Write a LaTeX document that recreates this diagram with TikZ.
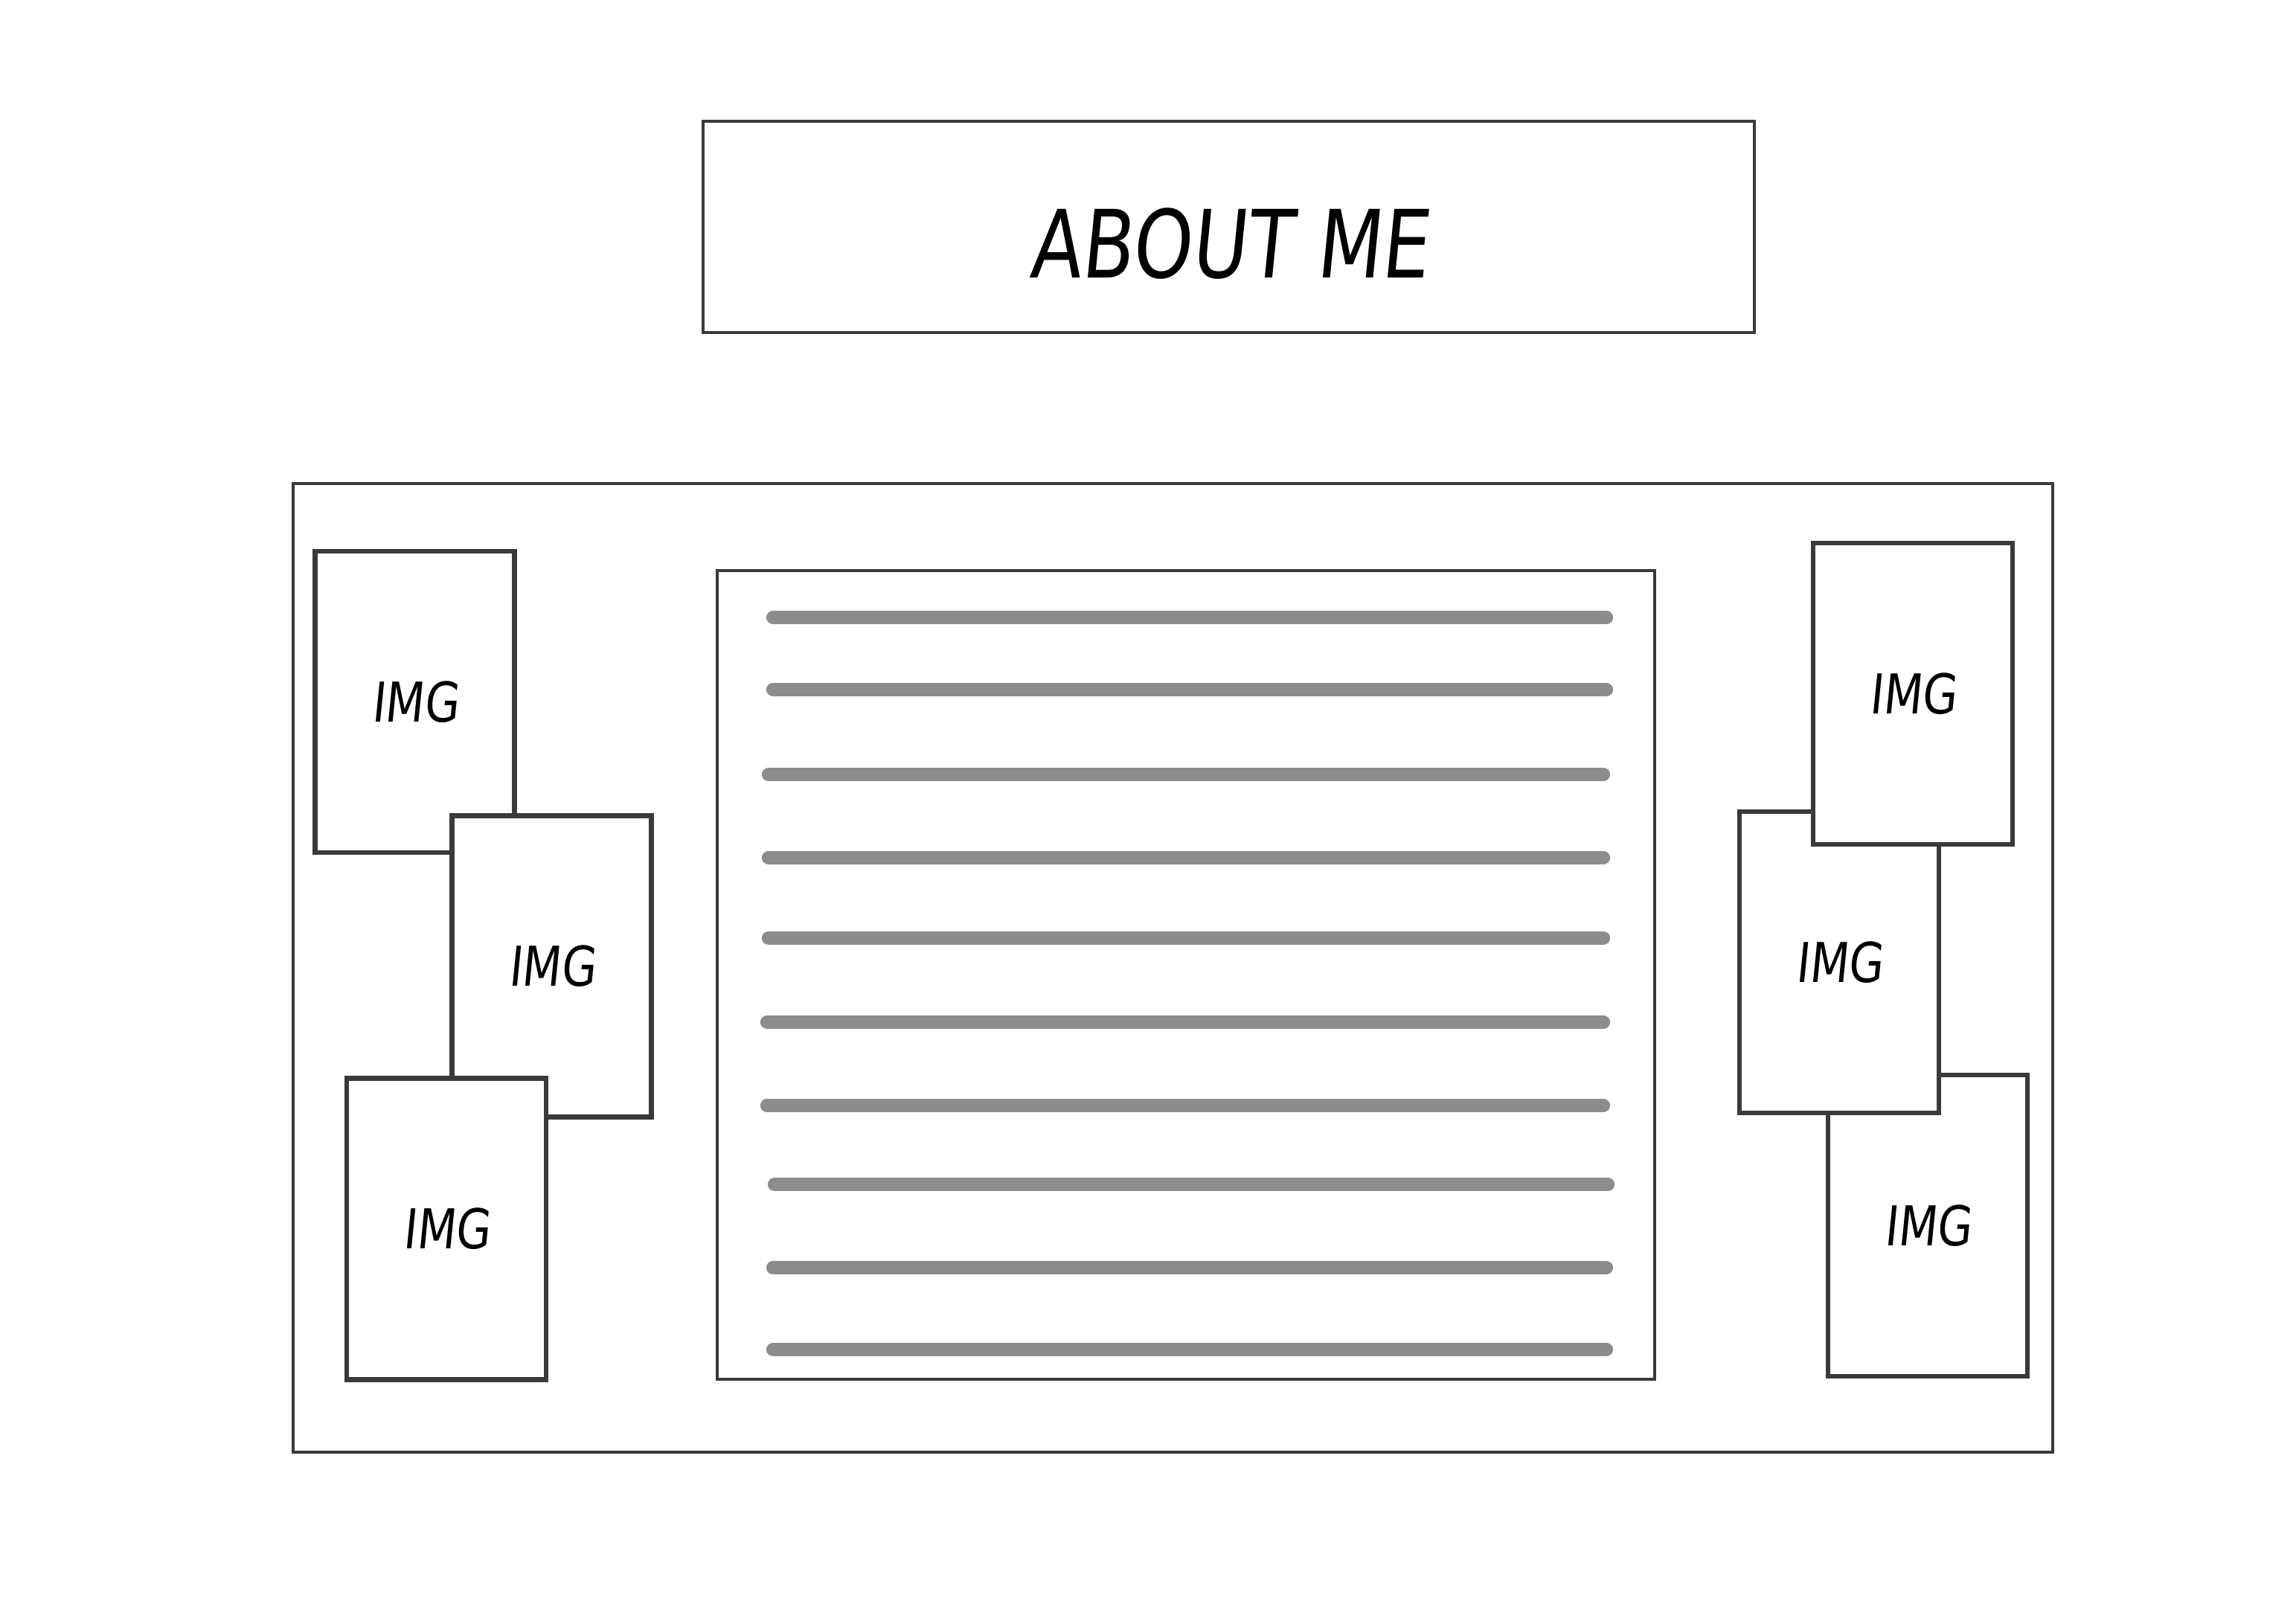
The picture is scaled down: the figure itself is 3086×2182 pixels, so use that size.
\documentclass[tikz,border=0pt]{standalone}
\usepackage{fontspec}
\newfontfamily\titlefont[FakeSlant=0.1,FakeStretch=0.8]{DejaVu Sans}
\newfontfamily\imgfont[FakeSlant=0.1,FakeStretch=0.82]{DejaVu Sans}
\definecolor{edge}{HTML}{3A3A3A}
\definecolor{bar}{HTML}{8C8C8C}
\tikzset{
  box/.style={draw=edge, rectangle, inner sep=0},
  imgbox/.style={box, fill=white, line width=1.9pt, minimum width=26.8mm, minimum height=40.5mm, font=\imgfont\fontsize{21}{21}\selectfont},
  textline/.style={draw=bar, line width=5.2pt, line cap=round}
}
\begin{document}
\begin{tikzpicture}[x=0.1mm, y=-0.1mm]
		\useasboundingbox (0,0) rectangle (3086,2182);
		
		\node (T) at (1651.5,305) [box, line width=1pt, minimum width=141.3mm, minimum height=28.4mm, text height=13.8mm, font=\titlefont\fontsize{36}{36}\selectfont]  {ABOUT ME};
		\node (M) at (1576.5,1301) [box, line width=1pt, minimum width=236.5mm, minimum height=130.2mm]  {};
		\node (C) at (1594,1310.5) [box, line width=1.2pt, minimum width=126mm, minimum height=108.7mm]  {};
		
		\coordinate (C1a) at (1039,830);  \coordinate (C1b) at (2159,830);
		\coordinate (C2a) at (1039,927);  \coordinate (C2b) at (2159,927);
		\coordinate (C3a) at (1033,1041); \coordinate (C3b) at (2155,1041);
		\coordinate (C4a) at (1033,1153); \coordinate (C4b) at (2155,1153);
		\coordinate (C5a) at (1033,1261); \coordinate (C5b) at (2155,1261);
		\coordinate (C6a) at (1031,1374); \coordinate (C6b) at (2155,1374);
		\coordinate (C7a) at (1031,1486); \coordinate (C7b) at (2155,1486);
		\coordinate (C8a) at (1041,1592); \coordinate (C8b) at (2161,1592);
		\coordinate (C9a) at (1039,1704); \coordinate (C9b) at (2159,1704);
		\coordinate (C10a) at (1039,1814); \coordinate (C10b) at (2159,1814);
		\draw[textline] (C1a) to (C1b);
		\draw[textline] (C2a) to (C2b);
		\draw[textline] (C3a) to (C3b);
		\draw[textline] (C4a) to (C4b);
		\draw[textline] (C5a) to (C5b);
		\draw[textline] (C6a) to (C6b);
		\draw[textline] (C7a) to (C7b);
		\draw[textline] (C8a) to (C8b);
		\draw[textline] (C9a) to (C9b);
		\draw[textline] (C10a) to (C10b);
		
		\node (L1) at (557.5,943.5) [imgbox]  {IMG};
		\node (L2) at (741.5,1299) [imgbox]  {IMG};
		\node (L3) at (600,1652) [imgbox]  {IMG};
		
		\node (R3) at (2591,1647.5) [imgbox]  {IMG};
		\node (R2) at (2472,1293.5) [imgbox]  {IMG};
		\node (R1) at (2571,932.5) [imgbox]  {IMG};
	\end{tikzpicture}
\end{document}
